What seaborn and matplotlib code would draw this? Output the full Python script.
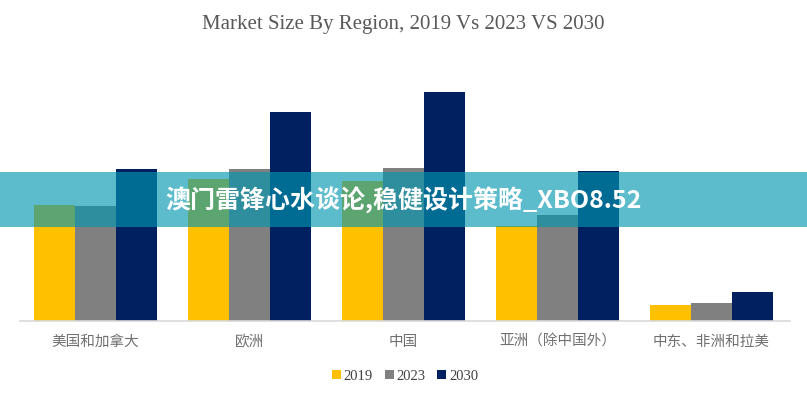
import numpy as np
import pandas as pd
import matplotlib.pyplot as plt
import seaborn as sns
from matplotlib.patches import Rectangle

regions = ['美国和加拿大', '欧洲', '中国', '亚洲（除中国外）', '中东、非洲和拉美']
years = ['2019', '2023', '2030']
size_2019 = [116, 142, 140, 95, 16]
size_2023 = [115, 152, 153, 106, 18]
size_2030 = [152, 209, 229, 150, 29]
colors = ['#FFC000', '#808080', '#002060']

df = pd.DataFrame({
    'region': regions * 3,
    'year': [y for y in years for _ in regions],
    'size': size_2019 + size_2023 + size_2030,
})

sns.set_style('white')
plt.rcParams['font.family'] = ['Noto Sans CJK SC', 'DejaVu Sans']

fig = plt.figure(figsize=(8.07, 4.0), dpi=100)
ax = fig.add_axes([0.025, 1 - 321 / 400, 0.954, 261 / 400])

sns.barplot(data=df, x='region', y='size', hue='year', palette=colors,
            width=0.8, saturation=1, linewidth=0, ax=ax, legend=True)

ax.set_xlim(-0.49, 4.51)
ax.set_ylim(0, 261)
ax.set_xlabel('')
ax.set_ylabel('')
ax.set_yticks([])
ax.tick_params(axis='x', length=0, pad=10, labelsize=10.5, labelcolor='#707070')
for s in ['top', 'left', 'right']:
    ax.spines[s].set_visible(False)
ax.spines['bottom'].set_color('#d9d9d9')
ax.spines['bottom'].set_linewidth(1.2)

# legend below
leg = ax.legend(loc='center', bbox_to_anchor=(0.5, -55 / 261), ncol=3, frameon=False,
                handlelength=0.6, handleheight=0.6, handletextpad=0.2,
                columnspacing=0.8, prop={'family': 'Liberation Serif', 'size': 10.5})
for t in leg.get_texts():
    t.set_color('#404040')

fig.text(0.5, 1 - 25 / 400, 'Market Size By Region, 2019 Vs 2023 VS 2030',
         ha='center', va='center', fontsize=15, color='#595959',
         family='Liberation Serif')

# overlay banner
fig.patches.append(Rectangle((0, 1 - 227 / 400), 1, 55 / 400, transform=fig.transFigure,
                             facecolor=(0, 151 / 255, 176 / 255), alpha=0.64,
                             edgecolor='none', zorder=5))
fig.text(0.5, 1 - 200 / 400, '澳门雷锋心水谈论,稳健设计策略_XBO8.52',
         ha='center', va='center', fontsize=18, fontweight='bold', color='white',
         family=['Noto Sans CJK SC', 'DejaVu Sans'], zorder=6)

fig.savefig('out.png', dpi=100)
